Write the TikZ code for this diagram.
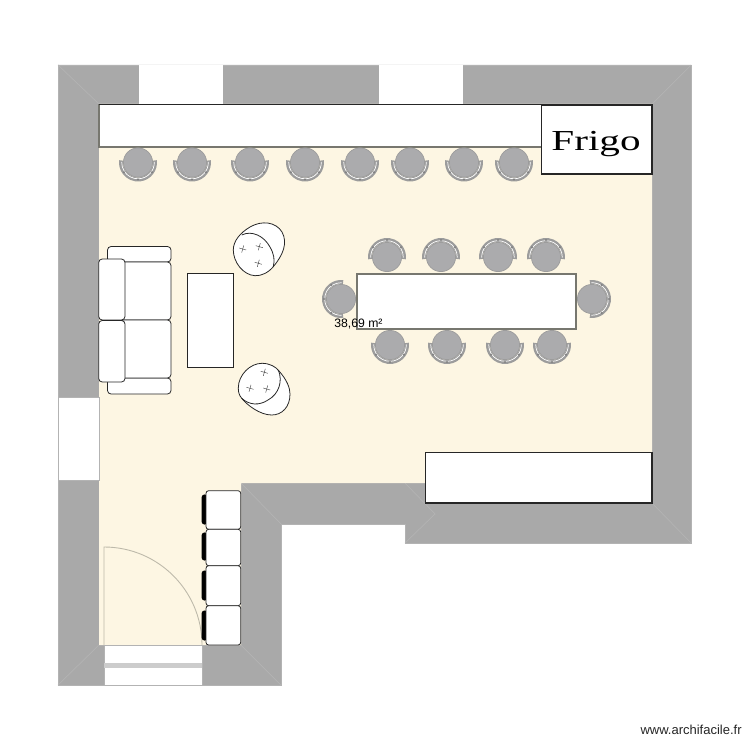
\documentclass[tikz,border=0pt]{standalone}
\usepackage{fontspec}
\setmainfont{Liberation Sans}
\newfontfamily\frigofont{Liberation Serif}
\definecolor{wallgray}{HTML}{A9A9A9}
\definecolor{wallline}{HTML}{B3B3B3}
\definecolor{floorcream}{HTML}{FDF6E3}
\definecolor{doorline}{HTML}{BDB9AA}
\definecolor{seatgray}{HTML}{ABABAD}
\definecolor{bandgray}{HTML}{9C9C9C}
\definecolor{tableline}{HTML}{77776F}
\tikzset{
  furniture/.style={draw=black!85,fill=white,line width=0.6pt},
  softpiece/.style={furniture,line width=0.45pt,rounded corners=2pt},
  stool/.style={furniture,line width=0.45pt,rounded corners=1.5pt},
  stoolback/.style={fill=black,rounded corners=1.5pt},
  button/.style={draw=black!75,line width=0.25pt},
  miter/.style={draw=wallline,line width=0.4pt},
  pics/chair/.style={code={
      \fill[bandgray] (-7:19) arc[start angle=-7,end angle=187,radius=19]
        -- (187:15) arc[start angle=187,end angle=-7,radius=15] -- cycle;
      \draw[white,line width=0.4pt] (-2:16.3) arc[start angle=-2,end angle=182,radius=16.3];
      \fill[seatgray,draw=bandgray,line width=0.4pt] (0,0) circle[radius=14.6];
      \foreach \a in {35,90,145} {\fill[gray] (\a:17) circle[radius=1.1];}
  }}
}
\begin{document}
\begin{tikzpicture}[x=0.02cm,y=-0.02cm]
  \useasboundingbox (0,0) rectangle (750,750);
  \fill[white] (0,0) rectangle (750,750);

  \fill[wallgray,draw=wallline,line width=0.4pt] (58,65) -- (691,65) -- (691,543) -- (405,543) -- (405,524)
    -- (281,524) -- (281,685) -- (58,685) -- cycle;
  \draw[miter] (58,65) -- (99,104);
  \draw[miter] (691,65) -- (652,104);
  \draw[miter] (691,543) -- (652,503);
  \draw[miter] (405,543) -- (435,514) -- (405,483);
  \draw[miter] (58,685) -- (99,645);
  \draw[miter] (281,685) -- (241,645);
  \draw[miter] (241,483) -- (281,524);
  \fill[floorcream] (99,104) -- (652,104) -- (652,503) -- (425,503) -- (425,483)
    -- (241,483) -- (241,645) -- (99,645) -- cycle;

  \fill[white] (139,65) rectangle (223,104);
  \fill[white] (379,65) rectangle (463,104);
  \fill[white,draw=wallline,line width=0.4pt] (58,397) rectangle (99,480);
  \fill[white,draw=wallline,line width=0.4pt] (104,645) rectangle (202,685);
  \fill[black!20] (104,662.5) rectangle (202,668);

  \draw[doorline,line width=0.5pt] (104,645) -- (104,547) arc[start angle=-90,end angle=0,radius=98];

  \fill[white] (99,104.5) rectangle (541,147);
  \draw[tableline,line width=0.6pt] (541,147) -- (99,147) -- (99,104.5);
  \draw[black!85,line width=0.6pt] (99,104.5) -- (541,104.5);
  \draw[furniture] (541.5,105) rectangle (652,174);
  \draw[furniture] (425.5,452.5) rectangle (652,503);
  \draw[furniture,draw=tableline,line width=0.75pt] (357,274) rectangle (576,329);
  \draw[furniture,line width=0.5pt] (187,273) rectangle (233,367);

  \foreach \x in {138,192,250,305,360,410,464,514} {
    \pic at (\x,162.5) {chair};
  }
  \foreach \x in {387,441,498,546} {
    \pic[rotate=180] at (\x,257) {chair};
  }
  \foreach \x in {390,447,505,552} {
    \pic at (\x,345) {chair};
  }
  \pic[rotate=-90] at (341,299) {chair};
  \pic[rotate=90] at (592,299) {chair};

  \draw[softpiece] (107.5,246.5) rectangle (171,262);
  \draw[softpiece] (107.5,378) rectangle (171,394);
  \draw[softpiece] (120,262) rectangle (171,320);
  \draw[softpiece] (120,320) rectangle (171,378);
  \draw[softpiece] (98.7,259) rectangle (125,320);
  \draw[softpiece] (98.7,320.5) rectangle (125,382);

  \draw[furniture,line width=0.45pt] (233.3,250) .. controls (233.3,241) and (240,233) .. (250,227)
    .. controls (262,220) and (276,222) .. (282,232)
    .. controls (288,243) and (283,255) .. (273.3,266.7)
    .. controls (268,273) and (261,276) .. (255,275.7)
    .. controls (243,275) and (233.3,262) .. (233.3,250) -- cycle;
  \draw[furniture,line width=0.45pt,fill=none] (241.7,235) .. controls (252,230) and (264,236) .. (270,247)
    .. controls (274,254) and (275,260) .. (273.3,266.7);
  \draw[furniture,line width=0.45pt] (238.3,388) .. controls (238.3,375) and (250,363.3) .. (262,363.3)
    .. controls (270,363.3) and (276,367) .. (279,371)
    .. controls (287,380) and (290,388) .. (290,394)
    .. controls (290,407) and (282,415) .. (271.7,415)
    .. controls (260,415) and (247,405) .. (241.7,398.3)
    .. controls (239,395) and (238.3,392) .. (238.3,388) -- cycle;
  \draw[furniture,line width=0.45pt,fill=none] (278.3,370) .. controls (283,381) and (279,394) .. (268,400)
    .. controls (259,406) and (249,405) .. (241.7,398.3);
  \foreach \x/\y in {242.7/249,259.3/246.7,258.3/263.3,264.3/372.3,250/388.3,266.7/389} {
    \draw[button] (\x-3.5,\y-1) -- (\x+3.5,\y+1);
    \draw[button] (\x+1,\y-3.5) -- (\x-1,\y+3.5);
  }

  \foreach \t/\b/\s/\e in {490.7/529.3/494/525,529.3/565.7/532/561,565.7/605.7/570/601,605.7/645/610/641} {
    \fill[stoolback] (207,\s) -- (201.5,\s+1) -- (201.5,\e-1) -- (207,\e) -- cycle;
    \draw[stool] (206,\t) rectangle (240.7,\b);
  }

  \node[font=\frigofont\fontsize{16.5}{18}\selectfont,inner sep=0pt] (frigo) at (596,144)
    {\scalebox{1.42}[1]{Frigo}};
  \node[font=\fontsize{6.95}{8}\selectfont,inner sep=0pt,anchor=west] (surface) at (334,324.5) {38,69 m²};
  \node[font=\fontsize{7.4}{9}\selectfont,inner sep=0pt,anchor=east,text=black!85] (credit) at (742,730) {www.archifacile.fr};
\end{tikzpicture}
\end{document}
